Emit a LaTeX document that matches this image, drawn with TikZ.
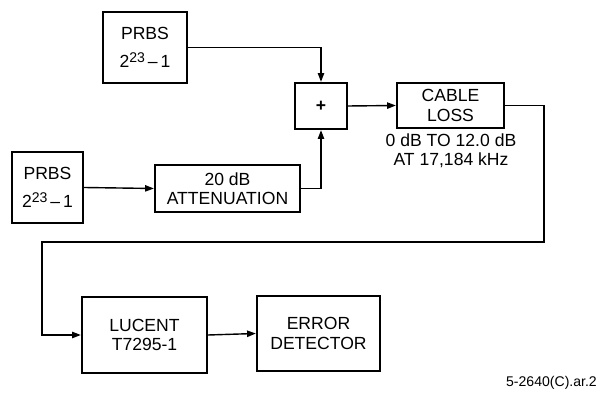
\documentclass[tikz,border=0pt]{standalone}
\usepackage{fontspec}
\setmainfont{Liberation Sans}
\usetikzlibrary{arrows.meta}
\usetikzlibrary{positioning}

\newcommand{\prbslen}{2\raisebox{0.55ex}{\fontsize{8}{9}\selectfont 23}\,--\,1}

\begin{document}
\begin{tikzpicture}[x=0.02cm,y=-0.02cm,
		block/.style={draw,line width=1.3pt,align=center,inner sep=0pt,font=\fontsize{10}{11}\selectfont},
		link/.style={line width=0.8pt,-{Triangle[length=5pt,width=3.6pt]}},
		wire/.style={line width=0.8pt}]
		\useasboundingbox (0,0) rectangle (605,394);
		
		% sources
		\node[block,minimum width=1.68cm,minimum height=1.42cm] (prbsA) at (145,47.5) {PRBS\\[5pt]\prbslen};
		\node[block,minimum width=1.42cm,minimum height=1.42cm] (prbsB) at (47.5,187.5) {PRBS\\[5pt]\prbslen};
		\node[block,minimum width=2.9cm,minimum height=0.94cm] (atten) at (227.5,188.5) {20 dB\\ATTENUATION};
		
		% summing and channel
		\node[block,minimum width=1.04cm,minimum height=0.92cm] (sum) at (321,106) {\textbf{+}};
		\node[block,minimum width=2.14cm,minimum height=0.9cm] (cable) at (450.5,105.5) {CABLE\\LOSS};
		\node[align=center,font=\fontsize{10}{11}\selectfont] (range) at (451,151) {0 dB TO 12.0 dB\\AT 17,184 kHz};
		
		% receiver side
		\node[block,minimum width=2.5cm,minimum height=1.52cm] (lucent) at (144.5,335) {LUCENT\\T7295-1};
		\node[block,minimum width=2.46cm,minimum height=1.5cm] (errdet) at (318.5,333.5) {ERROR\\DETECTOR};
		
		\node[anchor=east,font=\fontsize{8}{9}\selectfont] (tag) at (603,383) {5-2640(C).ar.2};
		
		% connections
		\coordinate (turnA) at (544,242);
		\coordinate (turnB) at (42,242);
		\draw[link] (prbsA.east) -| (sum.north);
		\draw[link] (prbsB.east) -- (atten.west);
		\draw[link] (atten.east) -| (sum.south);
		\draw[link] (sum.east) -- (cable.west);
		\draw[link] (cable.east) -| (turnA) -- (turnB) |- (lucent.west);
		\draw[link] (lucent.east) -- (errdet.west);
	\end{tikzpicture}
\end{document}
